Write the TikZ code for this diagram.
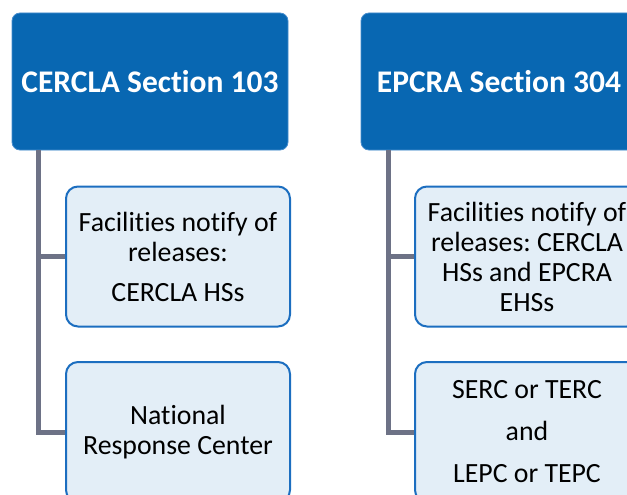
\documentclass[tikz,border=0pt]{standalone}
\usepackage{fontspec}
\setmainfont{Carlito}[Ligatures=NoCommon]
\usetikzlibrary{positioning,calc}
\definecolor{headblue}{RGB}{8,103,178}
\definecolor{headedge}{RGB}{70,140,205}
\definecolor{itemfill}{RGB}{227,238,247}
\definecolor{itemedge}{RGB}{28,110,192}
\definecolor{branchgray}{RGB}{109,114,134}
\newcommand{\headfont}{\fontsize{31.5}{36}\selectfont\bfseries}
\newcommand{\itemfont}{\fontsize{27.8}{30}\selectfont}
\frenchspacing

\begin{document}
\begin{tikzpicture}[x=1pt,y=-1pt,
  headbox/.style={rounded corners=8pt, fill=headblue, draw=headedge, line width=0.8pt,
    minimum width=276pt, minimum height=137pt, text=white, font=\headfont, inner sep=0pt},
  itembox/.style={rounded corners=12pt, fill=itemfill, draw=itemedge, line width=2pt,
    minimum width=224pt, minimum height=140pt, align=center, font=\itemfont, inner sep=0pt},
  branch/.style={draw=branchgray, line width=5pt}]
\useasboundingbox (0,0) rectangle (627,495);
\clip (0,0) rectangle (627,495);

% Draw section headers
\node[headbox] (cercla) at (150,81.5) {CERCLA Section 103};
\node[headbox] (epcra) at (499,81.5) {EPCRA Section 304};

% Draw notification boxes
\node[itembox] (cerclaFac) at (178,256.5) {Facilities notify of\\releases:\\[10pt]CERCLA HSs};
\node[itembox] (cerclaNrc) at (178,432) {National\\Response Center};
\node[itembox] (epcraFac) at (527,256.5) {Facilities notify of\\releases: CERCLA\\HSs and EPCRA\\EHSs};
\node[itembox] (epcraCom) at (527,432) {SERC or TERC\\[12pt]and\\[12pt]LEPC or TEPC};

% Draw branch lines
\coordinate (cerclaTop) at ($(cercla.south west)+(26.5,0)$);
\coordinate (epcraTop) at ($(epcra.south west)+(28,0)$);
\draw[branch] (cerclaTop) |- (cerclaFac.west);
\draw[branch] (cerclaTop) |- (cerclaNrc.west);
\draw[branch] (epcraTop) |- (epcraFac.west);
\draw[branch] (epcraTop) |- (epcraCom.west);
\end{tikzpicture}
\end{document}
